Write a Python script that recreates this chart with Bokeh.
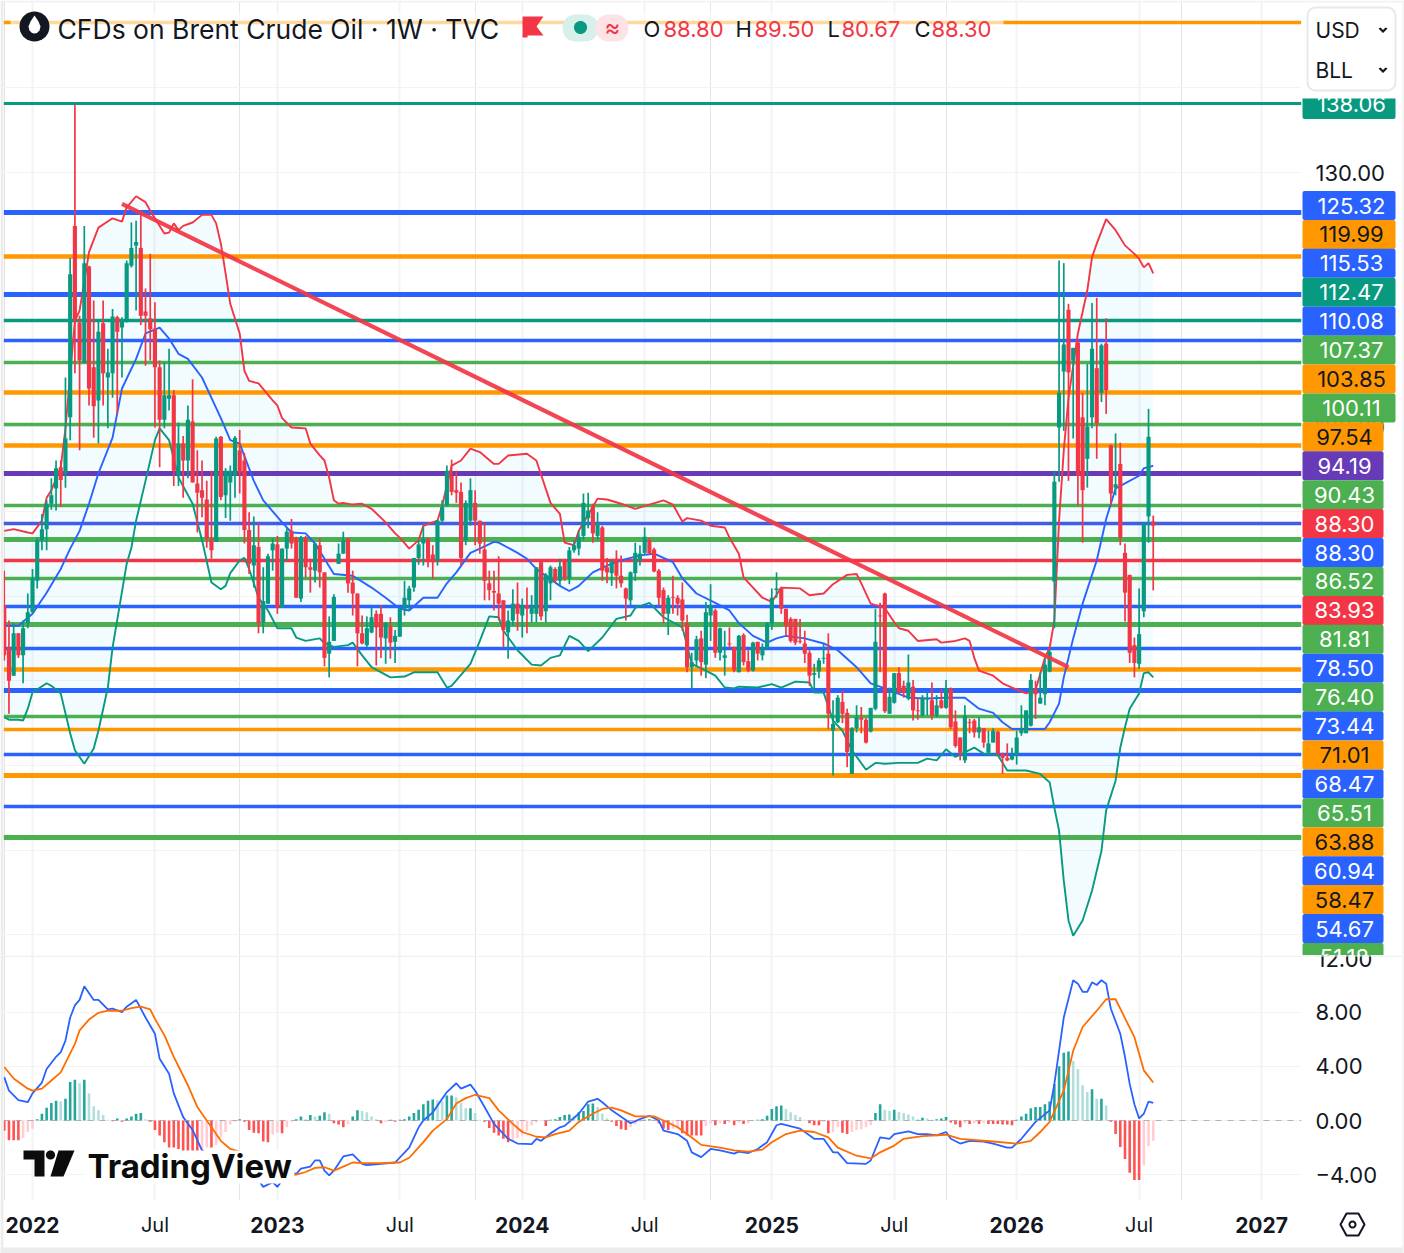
import math
from bokeh.embed import file_html
from bokeh.layouts import column
from bokeh.models import (BoxAnnotation, ColumnDataSource, FixedTicker, Grid, Label, LinearAxis,
                          PolyAnnotation, Range1d, Span)
from bokeh.plotting import figure
from bokeh.resources import INLINE

opens = [78.9,73.9,70.6,75.6,73.0,76.8,78.1,81.8,86.6,87.9,
 90.9,92.7,95.2,94.5,101.1,123.7,112.3,107.5,118.9,107.0,
 103.1,112.2,105.8,106.3,112.9,111.7,112.5,119.0,121.4,121.1,
 113.6,112.8,111.6,107.0,100.8,103.3,103.7,94.2,98.0,96.0,
 100.6,93.3,92.5,91.4,86.8,86.4,98.8,91.9,93.4,94.2,
 97.2,96.0,87.8,83.6,85.8,76.9,79.1,85.4,86.1,78.6,
 85.6,87.7,86.9,79.7,86.9,83.4,83.0,86.0,82.8,73.2,
 74.7,83.8,85.0,86.8,81.6,80.3,75.6,74.2,75.7,77.9,
 77.9,75.0,76.4,74.6,75.2,78.5,79.5,81.0,84.5,86.2,
 86.8,84.9,84.2,88.9,90.7,94.2,92.5,92.3,86.6,88.9,
 91.0,88.9,85.5,81.5,80.6,80.3,79.5,75.7,77.1,79.1,
 77.7,78.9,77.9,77.9,84.0,78.2,81.5,83.2,81.8,84.3,
 82.1,85.4,85.6,87.1,89.2,90.6,87.1,88.1,83.4,82.7,
 84.4,82.4,80.9,79.5,82.7,84.2,85.1,86.6,85.5,83.0,
 80.7,77.9,79.9,79.8,79.6,76.8,71.6,72.4,75.0,71.9,
 77.7,78.3,73.3,72.7,74.4,74.0,71.0,75.4,72.3,71.2,
 74.6,73.0,73.8,76.8,80.7,80.9,78.5,77.3,77.3,74.7,
 74.4,73.3,70.7,71.1,72.6,73.2,64.1,65.1,67.5,66.2,
 59.0,64.4,65.6,65.4,64.0,66.7,77.7,80.3,66.1,67.4,
 70.9,69.4,67.9,69.3,66.5,65.9,67.8,67.7,65.9,67.7,
 66.8,69.1,65.2,63.3,60.6,65.1,65.3,63.9,64.4,61.5,
 62.7,64.0,61.4,60.9,60.7,61.2,63.8,63.8,64.7,69.0,
 67.3,68.4,71.1,81.7,99.9,106.5,113.8,107.8,109.9,101.1,
 96.2,101.1,106.9,104.0,109.8,97.8,92.8,95.6,85.1,82.5,
 74.2,72.0,78.2,89.4,88.8]
highs = [83.0,77.1,76.8,75.6,77.1,80.3,83.2,86.9,89.7,91.3,
 93.9,96.0,96.0,105.8,119.9,138.0,113.1,123.7,119.0,114.9,
 112.5,114.9,109.2,113.9,113.1,112.9,119.6,124.1,124.3,125.2,
 116.3,120.4,114.7,107.8,107.6,109.2,104.3,100.5,98.9,102.5,
 105.6,97.2,96.0,93.6,94.8,98.8,98.9,95.1,95.4,98.9,
 99.6,96.9,89.9,89.4,88.6,83.4,85.0,86.8,87.1,85.6,
 88.0,89.1,87.0,87.1,87.1,84.4,86.3,86.8,82.8,77.6,
 80.2,86.2,87.6,86.8,83.0,80.3,77.7,77.6,78.6,78.3,
 78.9,76.9,77.5,76.0,78.5,81.8,81.2,84.5,86.6,88.2,
 86.8,86.0,89.0,91.3,95.4,96.1,94.8,93.4,91.3,93.9,
 92.5,88.9,88.7,83.0,83.0,84.7,79.5,78.3,80.8,81.6,
 79.7,81.0,80.1,83.4,84.2,82.7,83.6,83.4,84.4,84.4,
 85.8,86.6,87.7,92.1,92.2,90.9,89.9,88.3,84.5,84.2,
 85.4,84.8,81.0,82.9,86.3,86.0,88.1,86.9,85.7,83.2,
 81.0,80.1,82.4,80.1,81.6,77.8,73.3,75.3,75.9,79.3,
 81.4,78.5,76.3,75.9,76.3,74.0,75.4,75.6,73.6,74.6,
 74.6,74.4,76.9,80.9,82.8,81.0,78.5,77.5,77.3,77.3,
 75.9,73.6,72.0,72.7,74.4,75.6,67.7,68.3,68.9,66.7,
 64.5,67.1,66.9,65.6,66.8,78.5,79.2,80.4,69.2,70.9,
 71.6,70.0,73.1,70.1,67.9,68.3,68.7,69.8,68.3,69.0,
 70.1,69.2,66.5,63.3,67.1,65.5,65.5,65.7,64.4,64.1,
 64.4,64.1,61.5,62.6,62.1,64.1,67.1,66.5,70.8,70.0,
 71.0,72.6,73.7,94.8,119.6,119.3,114.5,109.3,110.2,104.0,
 107.4,114.6,115.2,109.8,112.8,97.9,99.2,98.1,86.2,82.5,
 75.1,80.9,88.6,102.1,89.5]
lows = [72.4,66.1,70.6,72.7,69.7,76.2,78.0,80.9,85.4,85.4,
 90.2,90.1,90.5,92.8,98.4,106.3,97.2,107.5,102.5,98.7,
 98.0,102.5,99.8,103.4,101.5,105.8,112.3,118.8,113.7,112.0,
 107.2,107.8,99.9,95.2,99.8,101.9,93.0,93.0,91.6,93.9,
 93.4,87.5,89.3,85.7,84.4,86.4,91.3,89.2,88.9,91.6,
 92.1,86.2,82.6,81.0,75.6,75.6,79.1,83.0,77.9,78.6,
 84.2,85.6,79.8,79.3,82.2,80.4,81.6,81.0,71.7,70.4,
 74.7,83.8,85.0,80.4,77.7,71.7,74.3,74.0,75.6,71.8,
 72.7,72.0,72.6,72.1,75.2,77.7,78.3,80.5,83.7,83.6,
 83.4,82.0,83.6,88.7,90.6,91.9,91.0,83.6,86.0,88.3,
 86.0,85.0,79.5,79.5,78.3,77.1,73.9,72.6,76.5,75.9,
 75.1,75.6,76.9,76.9,77.1,76.9,79.5,81.6,81.2,81.8,
 81.4,85.1,84.8,86.6,88.0,86.3,86.6,81.8,81.5,81.2,
 80.9,81.0,77.1,78.9,81.8,83.6,84.9,84.9,82.8,78.9,
 76.8,75.4,77.9,77.7,75.9,71.0,69.1,71.6,70.6,70.3,
 74.7,72.7,72.4,70.6,73.9,71.0,71.0,71.8,71.0,71.1,
 72.4,72.4,73.8,76.0,79.8,77.9,75.3,74.5,74.2,74.4,
 72.1,69.4,69.1,70.3,72.0,64.3,58.8,65.0,65.0,59.8,
 59.0,63.9,63.8,62.6,63.9,66.5,71.0,66.2,66.1,67.3,
 68.5,68.0,67.7,65.3,65.4,65.8,65.9,65.4,65.7,66.7,
 66.7,64.3,62.1,60.6,60.3,63.8,63.3,63.2,62.1,61.2,
 62.7,61.2,59.0,60.5,60.6,60.1,63.5,63.8,64.6,65.5,
 67.3,67.1,71.0,76.2,93.5,99.5,93.6,98.6,90.7,86.3,
 92.8,99.8,96.2,102.9,101.5,90.7,91.9,86.0,77.0,72.1,
 70.4,71.4,77.5,86.3,80.67]
closes = [73.0,70.0,75.6,73.0,76.2,78.1,82.1,86.6,87.9,90.9,
 91.9,95.1,93.7,98.6,118.0,112.5,107.8,119.3,104.5,102.4,
 111.2,106.3,106.4,113.0,111.2,112.6,119.3,121.1,121.8,113.1,
 113.1,111.5,107.0,100.8,103.7,103.7,94.8,98.0,96.0,100.8,
 93.4,92.2,91.6,86.8,85.4,98.6,91.7,94.8,94.8,98.7,
 94.6,87.8,83.8,86.0,76.8,79.4,84.7,86.2,78.6,85.6,
 87.6,86.2,79.8,86.9,83.4,83.1,86.2,82.8,72.7,74.6,
 79.9,85.0,86.6,81.5,80.3,75.6,74.4,76.2,77.5,76.3,
 75.1,76.8,74.5,75.3,78.5,79.8,80.9,84.5,86.1,86.8,
 84.4,84.0,88.9,90.5,94.8,92.3,92.2,84.5,91.0,92.5,
 88.9,86.2,81.8,80.7,80.4,79.1,76.0,77.1,79.1,77.9,
 78.9,78.5,78.8,83.4,77.6,82.5,83.4,81.8,83.5,82.1,
 85.4,86.0,87.0,91.0,90.1,87.4,88.6,83.0,82.8,84.1,
 82.4,81.5,79.7,82.8,85.1,85.0,87.0,85.0,82.9,79.8,
 77.9,79.8,79.8,79.1,77.1,71.6,72.2,74.9,72.2,78.1,
 78.9,73.3,76.2,73.0,74.3,71.2,75.3,72.2,71.2,74.5,
 73.2,73.8,76.8,79.8,80.9,78.5,76.5,74.7,74.5,74.6,
 73.2,70.6,70.9,72.4,72.7,66.1,64.9,68.0,66.1,61.6,
 64.4,65.7,65.4,62.7,66.8,74.6,77.6,66.4,68.1,70.9,
 68.6,68.6,69.8,66.5,66.4,68.0,67.9,65.9,67.1,66.8,
 69.1,64.5,62.3,61.5,65.9,65.0,63.9,64.5,62.7,62.6,
 64.1,61.4,60.9,60.6,61.2,63.3,64.3,66.5,70.1,68.4,
 68.0,71.9,73.4,93.5,104.0,109.7,106.4,109.3,94.2,92.5,
 100.0,109.2,100.4,109.6,104.3,92.1,93.2,86.9,80.4,73.3,
 72.1,75.5,88.6,98.8,88.3]

upper_i = [0,2,5,6,8,9,10,12,13,15,16,18,20,23,25,26,28,30,31,34,35,36,37,38,40,42,44,45,46,47,48,50,51,52,54,57,58,59,61,64,65,67,68,69,70,71,72,74,76,78,81,83,84,86,88,89,92,93,95,97,99,101,104,105,107,111,113,116,118,119,121,122,126,128,131,134,140,142,144,145,148,150,153,154,156,157,161,163,165,169,171,174,176,179,181,182,184,187,189,190,192,194,198,199,202,204,205,206,207,210,212,214,217,219,221,222,223,224,225,226,228,230,231,232,234,236,238,240,241,242,243,244]
upper_v = [87.7,87.9,87.5,87.4,88.9,91.6,92.5,95.2,99.8,112.5,113.7,120.6,123.5,124.6,124.2,125.9,127.2,126.5,125.5,122.8,122.9,124.0,123.2,123.7,124.1,125.0,125.0,124.0,121.6,118.1,114.5,111.0,106.6,105.4,105.1,103.1,102.5,101.0,99.9,99.8,98.0,96.6,96.0,94.0,91.3,90.9,91.0,90.8,90.9,90.3,88.7,87.4,86.9,85.6,86.6,88.3,88.9,90.7,95.4,96.0,97.4,97.0,95.6,95.6,96.6,96.8,96.0,91.0,89.7,86.3,86.0,87.7,91.5,91.4,90.9,90.3,91.3,90.8,88.8,89.2,88.9,88.3,88.1,86.9,85.0,82.2,79.8,79.3,81.0,80.9,80.1,80.3,81.4,82.5,82.6,81.5,79.1,78.6,76.9,76.2,75.9,74.7,74.9,74.5,74.7,75.0,74.7,72.7,71.2,70.6,69.7,69.2,68.5,68.9,72.7,73.9,77.1,88.9,97.2,103.4,111.0,116.1,120.0,121.6,124.5,123.2,121.4,120.4,119.8,118.8,119.3,118.1]
middle_i = [0,3,6,9,12,14,16,18,20,23,25,28,30,33,35,37,39,42,44,46,48,50,53,55,59,61,64,66,68,70,74,78,81,84,86,89,92,94,96,99,101,104,105,109,111,113,118,120,122,125,128,131,135,138,142,144,147,151,154,156,159,162,164,166,170,174,177,181,184,187,192,196,200,204,207,210,212,214,219,221,222,224,225,227,229,232,234,236,238,241,242,243,244]
middle_v = [76.5,76.5,77.9,80.4,83.2,85.6,87.7,90.9,94.5,98.7,104.5,108.0,111.0,111.7,110.4,108.6,108.0,105.8,103.4,101.0,98.4,98.0,93.6,91.3,88.7,87.5,87.4,86.2,84.4,82.6,82.4,81.0,79.8,78.5,78.3,79.8,79.8,81.5,82.8,85.1,85.6,86.4,86.3,85.1,84.4,83.2,81.2,80.6,81.2,82.8,83.6,84.2,84.8,85.0,84.0,82.1,80.3,79.2,78.3,76.8,75.3,74.5,75.0,75.3,75.0,74.4,73.6,71.6,69.7,69.1,68.0,67.9,68.0,68.0,66.7,66.2,65.1,64.3,64.3,64.3,65.1,67.3,70.4,75.0,79.1,84.2,89.1,92.7,93.3,94.2,95.1,95.2,95.4]
lower_i = [0,1,3,4,5,6,9,10,12,14,15,17,19,20,22,23,26,27,28,30,32,33,35,37,40,42,44,46,47,48,50,51,52,54,56,58,61,62,64,67,68,70,73,74,76,78,82,85,87,92,94,95,99,101,103,105,106,109,112,114,116,118,120,122,124,127,130,133,134,137,140,144,146,149,151,153,155,156,160,163,165,168,171,172,174,176,178,180,183,185,187,190,194,196,198,200,202,206,208,211,213,217,220,222,223,224,225,226,227,229,231,233,234,236,237,238,239,241,242,243,244]
lower_v = [65.7,65.4,65.4,65.3,66.7,68.6,69.7,69.4,68.5,63.8,61.8,60.2,62.0,64.1,69.2,73.9,83.8,85.7,88.9,93.6,98.4,99.8,98.4,94.0,90.9,86.6,81.6,80.8,81.2,82.7,84.2,84.5,83.2,79.8,78.3,76.2,76.2,75.1,74.7,75.0,74.4,74.0,74.2,74.5,73.0,71.6,70.4,70.5,71.0,71.0,69.2,69.4,72.0,74.7,77.6,77.5,75.9,73.6,71.9,71.8,72.7,73.0,75.3,74.7,73.5,75.1,77.3,77.7,78.6,79.2,77.5,76.3,72.0,71.2,70.6,69.2,69.1,69.3,69.2,69.6,69.2,69.9,69.8,68.6,68.6,65.3,64.1,61.8,59.5,60.3,60.2,60.3,60.3,60.8,60.6,61.9,61.0,62.1,61.4,61.2,59.4,59.4,59.0,58.0,55.0,52.3,46.4,41.7,39.9,41.7,45.2,49.9,54.7,58.2,62.1,64.5,66.7,68.5,70.9,71.0,70.4]

trend_i = [25, 226]
trend_v = [126.3, 71.6]

level_values = [147.7,138.15,125.28,120.09,115.6,112.53,110.17,107.57,104.03,100.25,97.77,94.47,90.69,88.56,86.68,84.2,82.07,78.77,76.64,73.81,71.33,68.85,65.78,64.25,61.29,58.81,55.15,51.49]
level_colors = ["#ff9800","#089981","#2962ff","#ff9800","#2962ff","#089981","#2962ff","#4caf50","#ff9800","#4caf50","#ff9800","#673ab7","#4caf50","#2962ff","#4caf50","#f23645","#4caf50","#2962ff","#4caf50","#2962ff","#ff9800","#2962ff","#4caf50","#ff9800","#2962ff","#ff9800","#2962ff","#4caf50"]
level_widths = [3.5,3,5,4.5,5,3.5,3.5,3.5,4.5,3.5,4.5,5,3.5,3.5,5,3.5,3.5,3.5,5,3.5,4.5,5,3.5,3.5,3.5,5,3.5,5]
price_line_value = 88.56

badge_main = "138.06"
badge_texts = ["125.32","119.99","115.53","112.47","110.08","107.37","103.85","100.11","97.54","94.19","90.43","88.30","88.30","86.52","83.93","81.81","78.50","76.40","73.44","71.01","68.47","65.51","63.88","60.94","58.47","54.67","51.18"]
badge_colors = ["#2962ff","#ff9800","#2962ff","#089981","#2962ff","#4caf50","#ff9800","#4caf50","#ff9800","#673ab7","#4caf50","#f23645","#2962ff","#4caf50","#f23645","#4caf50","#2962ff","#4caf50","#2962ff","#ff9800","#2962ff","#4caf50","#ff9800","#2962ff","#ff9800","#2962ff","#4caf50"]

macd_i = [0,1,3,5,6,8,9,11,12,13,14,15,16,17,19,20,22,23,25,26,28,30,32,33,35,36,38,40,42,46,50,52,54,55,57,58,59,61,62,63,65,66,67,68,69,70,72,74,76,77,80,83,86,88,89,91,94,96,97,99,100,102,104,107,109,112,113,114,116,118,119,122,124,126,127,129,133,135,137,139,140,143,145,146,148,150,152,155,156,158,160,162,164,165,169,172,174,176,177,179,183,184,186,188,189,192,194,196,198,200,201,203,205,208,210,213,214,216,219,222,223,225,227,228,229,230,231,232,233,234,235,237,238,239,240,241,242,243,244]
macd_v = [3.2,2.2,1.5,1.35,2.0,2.8,3.8,4.7,5.05,5.9,7.6,8.5,8.9,9.9,8.9,8.9,8.2,8.25,8.0,8.4,8.9,7.6,6.4,4.55,3.45,2.0,0.25,-0.7,-2.2,-3.2,-4.0,-4.3,-4.4,-4.9,-4.55,-4.9,-4.4,-3.8,-3.95,-3.55,-3.4,-2.95,-2.95,-3.7,-4.05,-3.7,-2.65,-2.5,-3.2,-3.3,-3.2,-3.1,-2.0,-0.5,0.0,0.6,2.1,2.75,2.35,2.65,2.2,1.0,-0.25,-1.35,-1.7,-1.75,-1.35,-1.5,-0.95,-0.5,-0.4,0.5,1.4,1.6,1.35,0.75,-0.2,0.1,0.35,0.0,-0.75,-1.0,-1.5,-2.35,-2.7,-2.1,-2.2,-2.45,-2.3,-2.4,-2.1,-1.6,-0.35,-0.25,-0.6,-1.35,-1.35,-2.35,-2.35,-3.15,-3.2,-2.95,-1.25,-1.35,-1.0,-0.8,-1.0,-1.0,-1.1,-0.85,-1.35,-1.7,-1.5,-1.55,-1.7,-2.0,-2.0,-1.35,-0.1,0.75,2.7,7.6,10.35,10.1,9.5,9.5,10.2,10.0,10.35,10.1,8.25,6.4,4.7,2.7,1.2,0.15,0.5,1.4,1.3]
signal_i = [0,2,5,6,8,10,12,15,16,18,20,22,25,27,29,31,32,34,36,39,41,44,46,48,52,55,58,61,62,64,66,68,70,72,74,76,80,84,86,89,91,94,96,98,100,103,105,108,110,113,115,117,120,122,125,127,129,131,134,138,140,143,146,148,152,155,158,161,163,166,169,172,175,177,181,184,186,189,191,195,200,203,210,215,218,220,222,225,227,229,232,234,236,237,240,242,244]
signal_v = [3.95,3.1,2.35,2.2,2.35,2.95,3.55,5.65,6.65,7.45,7.95,8.1,8.1,8.3,8.4,8.2,7.5,6.3,4.7,2.6,1.0,-0.5,-1.5,-2.1,-2.5,-3.3,-3.9,-4.05,-4.0,-3.8,-3.5,-3.45,-3.7,-3.4,-3.1,-3.15,-3.15,-3.1,-2.75,-1.6,-0.75,0.1,1.25,1.65,1.9,1.65,0.75,-0.25,-0.85,-1.2,-1.25,-1.0,-0.75,-0.1,0.5,0.85,0.95,0.75,0.3,0.3,0.0,-0.5,-1.25,-1.8,-2.0,-2.2,-2.3,-2.15,-1.6,-1.0,-0.75,-0.85,-1.25,-2.0,-2.6,-2.8,-2.35,-1.85,-1.35,-1.15,-1.05,-1.35,-1.55,-1.7,-1.5,-0.85,-0.1,2.2,5.15,6.9,8.1,8.95,8.95,8.25,6.15,3.7,2.8]
hist = [-.75,-1.45,-1.45,-1.45,-1.3,-.85,-.6,.1,.5,.95,
 1.3,1.45,1.4,1.6,2.85,3,2.75,3,2,1.05,
 .75,.4,.05,-.05,.15,-.1,.15,.3,.5,.55,
 .1,-.1,-.7,-1.1,-1.6,-2,-2,-2.1,-2.5,-2.6,
 -2.6,-2.6,-2.2,-2,-2,-1.8,-1.25,-.85,-.3,-.1,
 .1,-.1,-.7,-.9,-.95,-1.55,-1.6,-1.05,-.9,-.95,
 -.5,-.1,.1,.3,.1,.4,.3,.35,.6,.5,
 -.2,-.3,-.5,-.25,.3,.75,.7,.6,.3,.1,
 -.2,-.1,.05,-.1,.05,.1,.3,.55,.8,1.2,
 1.45,1.55,1.5,1.4,1.85,1.85,1.7,1.3,.9,.9,
 .55,.05,-.1,-.55,-.9,-1.1,-1.35,-1.6,-1.55,-1.3,
 -1.1,-.8,-.35,-.15,-.05,-.4,.05,.1,.25,.4,
 .45,.3,.6,.7,1.2,1.25,1,.5,.15,-.1,
 -.4,-.65,-.7,-.5,-.3,-.1,.05,.1,.05,-.2,
 -.6,-.7,-.6,-.55,-.95,-1.1,-1.1,-1.1,-1.1,-.4,
 -.2,-.35,-.2,-.25,-.15,-.35,-.15,-.25,-.2,-.05,
 .05,.1,.35,.85,1.05,1.1,.85,.6,.4,.25,
 .05,-.2,-.35,-.35,-.1,-.95,-.85,-.5,-.9,-1,
 -.85,-.7,-.65,-.5,-.35,.55,1.2,.8,.7,.8,
 .65,.55,.45,.3,.1,.2,.15,.05,.1,.15,
 .25,-.15,-.3,-.5,-.2,-.25,-.2,-.25,-.2,-.25,
 -.25,-.25,-.3,-.3,-.35,.05,.3,.5,.9,1,
 1,1.2,1.4,2.7,4,5,5.1,4.4,3.8,2.6,
 2.1,2.3,1.6,1.6,1.1,-.1,-1,-1.95,-2.85,-3.85,
 -4.4,-4.4,-3.3,-1.9,-1.5]

year_ticks = [6, 58, 110, 163, 215, 267]
year_labels = ["2022", "2023", "2024", "2025", "2026", "2027"]
month_ticks = [32, 84, 136, 189, 241]
month_labels = ["Jul", "Jul", "Jul", "Jul", "Jul"]
price_grid_ticks = [40, 50, 60, 70, 80, 90, 100, 110, 120, 130, 140]
price_label_ticks = [100, 130]

FONT = "Inter"
GREEN, RED = "#089981", "#f23645"
INK = "#131722"
GRID = "#f2f3f5"
n = len(closes)
idx = list(range(n))


def PX(x):
    return (x - 3.75) / 4.709


def PY1(y):
    return 150.31 - 0.11806 * y


def PY2(y):
    return (1120 - y) / 13.55


x_range = Range1d(PX(3), PX(1301))

# ------------------------------------------------------------------ price pane
p = figure(width=1404, height=955, x_range=x_range, y_range=Range1d(PY1(955), PY1(0)),
           x_axis_location=None, y_axis_location="right", toolbar_location=None,
           output_backend="svg", min_border_left=3, min_border_right=103, min_border_top=0,
           min_border_bottom=0, outline_line_color=None, background_fill_color="white")
p.yaxis.ticker = FixedTicker(ticks=price_label_ticks)
p.yaxis.major_label_overrides = {t: f"{t}.00" for t in price_label_ticks}
p.yaxis.axis_line_color = None
p.yaxis.major_tick_line_color = None
p.yaxis.minor_tick_line_color = None
p.yaxis.major_label_standoff = 8
p.yaxis.major_label_text_font = FONT
p.yaxis.major_label_text_font_size = "22px"
p.yaxis.major_label_text_color = INK
p.ygrid.ticker = FixedTicker(ticks=price_grid_ticks)
p.ygrid.grid_line_color = GRID
p.ygrid.grid_line_width = 1
p.add_layout(Grid(dimension=0, ticker=FixedTicker(ticks=year_ticks + month_ticks),
                  grid_line_color=GRID, grid_line_width=2))

p.patch(upper_i + lower_i[::-1], upper_v + lower_v[::-1], fill_color="#29b6f6", fill_alpha=0.06,
        line_color=None)
levels = ColumnDataSource(dict(y=level_values, c=level_colors, w=level_widths,
                               x0=[PX(3)] * len(level_values), x1=[PX(1301)] * len(level_values)))
p.segment("x0", "y", "x1", "y", source=levels, line_color="c", line_width="w")
p.segment([PX(3)], [price_line_value], [PX(1301)], [price_line_value], line_color=RED, line_width=1.5,
          line_dash="1 3")
p.line(upper_i, upper_v, line_color=RED, line_width=1.9)
p.line(lower_i, lower_v, line_color=GREEN, line_width=1.9)
p.line(middle_i, middle_v, line_color="#2962ff", line_width=1.9)

colors = [GREEN if c >= o else RED for o, c in zip(opens, closes)]
candles = ColumnDataSource(dict(x=idx, o=opens, h=highs, l=lows, c=closes, col=colors))
p.segment("x", "h", "x", "l", source=candles, line_color="col", line_width=1.7)
p.vbar("x", 0.88, "o", "c", source=candles, fill_color="col", line_color=None)
p.line(trend_i, trend_v, line_color=RED, line_width=4.2, alpha=0.92)


# overlay canvases: page-pixel coordinates, decoration and stacked price badges only
def overlay(height, top, bottom):
    return figure(width=1404, height=height, x_range=Range1d(0, 1404), y_range=Range1d(bottom, top),
                  x_axis_location=None, y_axis_location=None, toolbar_location=None,
                  output_backend="svg", min_border=0, outline_line_color=None,
                  background_fill_color=None, border_fill_color=None,
                  margin=(-height, 0, 0, 0), frame_align=False)


def poly(fig, xs, ys, color, line=None, w=1, alpha=1.0):
    fig.add_layout(PolyAnnotation(xs=xs, ys=ys, fill_color=color, fill_alpha=alpha,
                                  line_color=line, line_width=w, line_alpha=1.0))


def circle(fig, cx, cy, r, color, line=None, w=1):
    xs = [cx + r * math.cos(k * math.pi / 18) for k in range(36)]
    ys = [cy + r * math.sin(k * math.pi / 18) for k in range(36)]
    poly(fig, xs, ys, color, line, w)


def box(fig, x0, x1, y0, y1, color, alpha=1.0, radius=0, line=None):
    fig.add_layout(BoxAnnotation(left=x0, right=x1, top=y0, bottom=y1, fill_color=color,
                                 fill_alpha=alpha, line_color=line, line_alpha=1.0,
                                 line_width=2, border_radius=radius))


def label(fig, x, y, text, size, color=INK, style="normal", align="left", font=FONT):
    fig.add_layout(Label(x=x, y=y, text=text, text_font=font, text_font_size=f"{size}px",
                         text_color=color, text_font_style=style, text_align=align,
                         text_baseline="middle"))


ov1 = overlay(955, 0, 955)
ov1.grid.visible = False

box(ov1, 1302, 1395, 90, 118.5, GREEN, radius=2)
label(ov1, 1351, 103, badge_main, 22, "white", align="center")
for k, (t, col) in enumerate(zip(badge_texts, badge_colors)):
    yc = 205 + k * 28.92
    right = 1395 if len(t) == 6 else 1383
    box(ov1, 1302, right, yc - 14.5, yc + 14.5, col, radius=2)
    label(ov1, 1351 if len(t) == 6 else 1344, yc, t, 22, "#131722" if col == "#ff9800" else "white",
          align="center")

box(ov1, 1301, 1402, 0, 98, "white")
box(ov1, 1307, 1395, 7, 90, "white", radius=8, line="#e6e8ee")
label(ov1, 1315, 30, "USD", 21, INK)
label(ov1, 1315, 70, "BLL", 21, INK)
for cy in (30, 70):
    poly(ov1, [1378, 1380, 1382.5, 1385, 1387, 1382.5],
         [cy - 2, cy - 3, cy - 0.5, cy - 3, cy - 2, cy + 2.5], INK)

box(ov1, 10, 1003, 12, 36, "white", alpha=0.62)
circle(ov1, 34, 26, 15, "#131722")
poly(ov1, [34, 38, 40, 39, 36.5, 34, 31.5, 29, 28, 30],
     [15, 21, 26, 30, 32.5, 33, 32.5, 30, 26, 21], "white")
label(ov1, 57, 28, "CFDs on Brent Crude Oil \u00b7 1W \u00b7 TVC", 26.5, INK)
poly(ov1, [522, 543, 536, 543, 527, 527, 522], [16, 16, 26, 35, 35, 37, 37], RED)
box(ov1, 562, 598, 14, 41, "#d8f0ea", radius=13)
box(ov1, 595, 628, 14, 41, "#fde3e6", radius=13)
circle(ov1, 580, 27, 6.5, GREEN)
label(ov1, 612, 27, "\u2248", 24, RED, align="center")
ohlc_names = ["O", "H", "L", "C"]
ohlc_values = [opens[-1], highs[-1], lows[-1], closes[-1]]
ohlc_name_x = [643, 735, 827, 914]
ohlc_value_x = [663, 754, 841, 931]
for nm, v, nx, vx in zip(ohlc_names, ohlc_values, ohlc_name_x, ohlc_value_x):
    label(ov1, nx, 28, nm, 22, INK)
    label(ov1, vx, 28, f"{v:.2f}", 22, RED)

box(ov1, 0, 3, 0, 955, "#ececec")
box(ov1, 0, 1404, 0, 2, "#f2f2f2")
box(ov1, 1402, 1404, 0, 955, "#f2f2f2")

# ------------------------------------------------------------------ MACD pane
q = figure(width=1404, height=298, x_range=x_range, y_range=Range1d(PY2(1200), PY2(955)),
           x_axis_location=None, y_axis_location="right", toolbar_location=None,
           output_backend="svg", min_border_left=3, min_border_right=103, min_border_top=0,
           min_border_bottom=53, outline_line_color=None, background_fill_color="white")
macd_ticks = [-4, 0, 4, 8]
q.yaxis.ticker = FixedTicker(ticks=macd_ticks)
q.yaxis.major_label_overrides = {-4: "\u22124.00", 0: "0.00", 4: "4.00", 8: "8.00"}
q.yaxis.axis_line_color = None
q.yaxis.major_tick_line_color = None
q.yaxis.minor_tick_line_color = None
q.yaxis.major_label_standoff = 8
q.yaxis.major_label_text_font = FONT
q.yaxis.major_label_text_font_size = "22px"
q.yaxis.major_label_text_color = INK
q.ygrid.ticker = FixedTicker(ticks=macd_ticks)
q.ygrid.grid_line_color = GRID
q.add_layout(Grid(dimension=0, ticker=FixedTicker(ticks=year_ticks + month_ticks),
                  grid_line_color=GRID, grid_line_width=2))

axis_years = LinearAxis(ticker=FixedTicker(ticks=year_ticks),
                        major_label_overrides=dict(zip(year_ticks, year_labels)),
                        axis_line_color=None, major_tick_line_color=None, minor_tick_line_color=None,
                        major_label_standoff=10, major_label_text_font=FONT,
                        major_label_text_font_size="21px", major_label_text_font_style="bold",
                        major_label_text_color=INK)
q.add_layout(axis_years, "below")
axis_months = LinearAxis(ticker=FixedTicker(ticks=month_ticks),
                         major_label_overrides=dict(zip(month_ticks, month_labels)),
                         axis_line_color=None, major_tick_line_color=None, minor_tick_line_color=None,
                         major_label_standoff=-29, major_label_text_font=FONT,
                         major_label_text_font_size="20px", major_label_text_color=INK)
q.add_layout(axis_months, "below")


def hist_color(k):
    prev = hist[k - 1] if k else 0
    if hist[k] >= 0:
        return "#26a69a" if hist[k] >= prev else "#b2dfdb"
    return "#ff5252" if hist[k] <= prev else "#ffcdd2"


q.vbar(idx, 0.55, 0, hist, fill_color=[hist_color(k) for k in idx], line_color=None)
q.add_layout(Span(location=0, dimension="width", line_color="#9598a1", line_width=1.2,
                  line_dash="6 6", line_alpha=0.7))
q.line(macd_i, macd_v, line_color="#2962ff", line_width=1.8)
q.line(signal_i, signal_v, line_color="#ff6d00", line_width=1.8)

ov2 = overlay(298, 955, 1253)
ov2.grid.visible = False
label(ov2, 1316, 958, "12.00", 22, INK)
box(ov2, 84, 294, 1150, 1183, "white")
label(ov2, 87, 1165, "TradingView", 33, "#0c0c0c", "bold")
poly(ov2, [23, 44, 44, 34, 34, 23], [1150, 1150, 1176, 1176, 1159, 1159], "#0c0c0c")
circle(ov2, 50, 1154.5, 4.6, "#0c0c0c")
poly(ov2, [58, 74, 63, 50], [1150, 1150, 1176, 1176], "#0c0c0c")
poly(ov2, [1340, 1346, 1358, 1364, 1358, 1346], [1224, 1213, 1213, 1224, 1235, 1235], "white", INK, 2)
circle(ov2, 1352, 1224, 3, "white", INK, 2)
box(ov2, 0, 3, 955, 1253, "#ececec")
box(ov2, 0, 1404, 955, 956, "#e4e6ec")
box(ov2, 0, 1404, 1247, 1253, "#ececec")
box(ov2, 1402, 1404, 955, 1253, "#f2f2f2")

page = column(p, ov1, q, ov2, spacing=0)
open("out.html", "w").write(file_html(page, INLINE))
